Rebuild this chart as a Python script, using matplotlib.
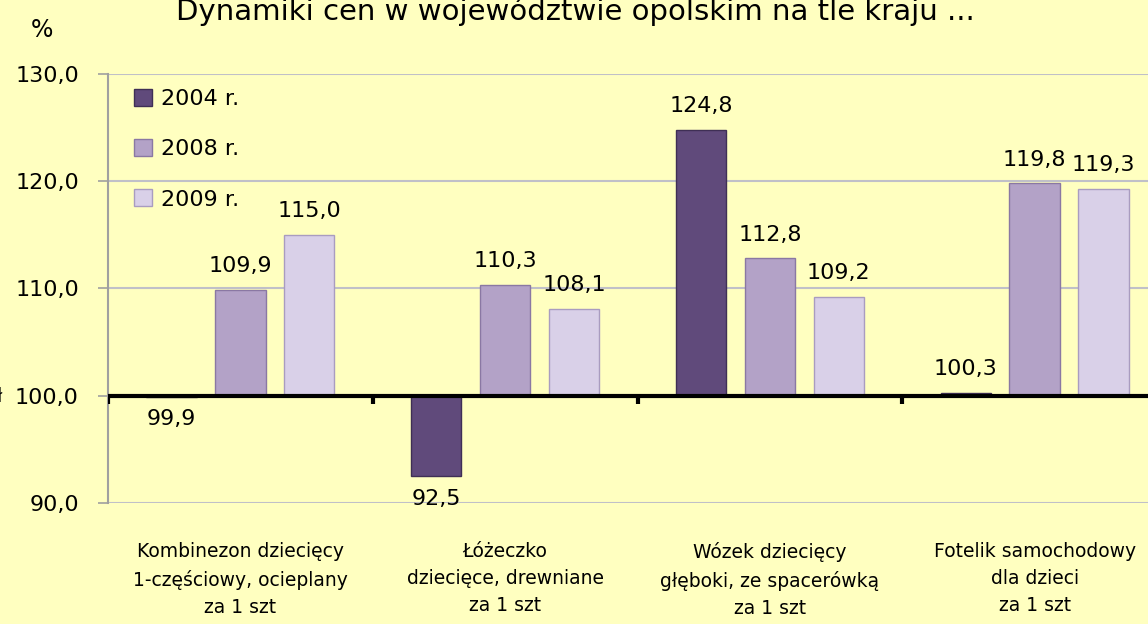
import numpy as np
import matplotlib
matplotlib.use("Agg")
import matplotlib.pyplot as plt

categories = ["Kombinezon dziecięcy\n1-częściowy, ocieplany\nza 1 szt",
              "Łóżeczko\ndziecięce, drewniane\nza 1 szt",
              "Wózek dziecięcy\ngłęboki, ze spacerówką\nza 1 szt",
              "Fotelik samochodowy\ndla dzieci\nza 1 szt"]
series_names = ["2004 r.", "2008 r.", "2009 r."]
v2004 = [99.9, 92.5, 124.8, 100.3]
v2008 = [109.9, 110.3, 112.8, 119.8]
v2009 = [115.0, 108.1, 109.2, 119.3]
yticks = [90, 100, 110, 120, 130]

bg = "#FFFFC0"
colors = ["#604A7B", "#B3A2C7", "#D9D0E8"]
edges = ["#3F2F55", "#8A78A3", "#A99CC0"]
base = 100.0

plt.rcParams["font.family"] = ["DejaVu Sans"]

fig = plt.figure(figsize=(11.48, 6.24), dpi=100, facecolor=bg)
ax = fig.add_axes([108 / 1148, 1 - 503 / 624, 1059 / 1148, 429 / 624])
ax.set_facecolor(bg)

x = np.arange(len(categories)) + 0.5
width = 0.19
offs = [-0.26, 0.0, 0.26]
for vals, name, c, ec, o in zip([v2004, v2008, v2009], series_names, colors, edges, offs):
    h = [v - base for v in vals]
    ax.bar(x + o, h, width, bottom=base, color=c, edgecolor=ec,
           linewidth=1.0, label=name, zorder=3)
    for xi, v in zip(x + o, vals):
        txt = f"{v:.1f}".replace(".", ",")
        if v >= base:
            ax.annotate(txt, (xi, v), xytext=(0, 10), textcoords="offset points",
                        ha="center", va="bottom", fontsize=16)
        else:
            ax.annotate(txt, (xi, v), xytext=(0, -9), textcoords="offset points",
                        ha="center", va="top", fontsize=16)

ax.set_xlim(0, len(categories))
ax.set_ylim(90, 130)
ax.set_yticks(yticks)
ax.set_yticklabels([f"{t:.1f}".replace(".", ",") for t in yticks], fontsize=16)
ax.yaxis.grid(True, color="#C0C0C8", linewidth=1.5, zorder=0)
ax.tick_params(axis="y", length=7, color="#A0A0A0", width=1.2, pad=14)

# base line at 100 with category separators
ax.axhline(base, color="black", linewidth=3, zorder=4)
ax.vlines(np.arange(len(categories)), base - 0.8, base, color="black",
          linewidth=3, zorder=4)

ax.set_xticks(x)
ax.set_xticklabels(categories, fontsize=13.5, linespacing=1.55)
ax.tick_params(axis="x", length=0, pad=28)

for s in ["top", "right", "bottom"]:
    ax.spines[s].set_visible(False)
ax.spines["left"].set_color("#A0A0A0")
ax.spines["left"].set_linewidth(1.5)

ax.legend(loc="upper left", bbox_to_anchor=(0.006, 1.012), frameon=False,
          fontsize=16, handlelength=0.8, handleheight=0.8, handletextpad=0.4,
          labelspacing=1.35)

fig.text(575 / 1148, 1 - 20 / 624, "Dynamiki cen w województwie opolskim na tle kraju ...",
         ha="center", va="baseline", fontsize=21)
fig.text(42 / 1148, 1 - 30 / 624, "%", ha="center", va="center", fontsize=17)
fig.text(0, 1 - 396 / 624, "ł", ha="center", va="center", fontsize=14)

fig.savefig("out.png", dpi=100, facecolor=bg)
